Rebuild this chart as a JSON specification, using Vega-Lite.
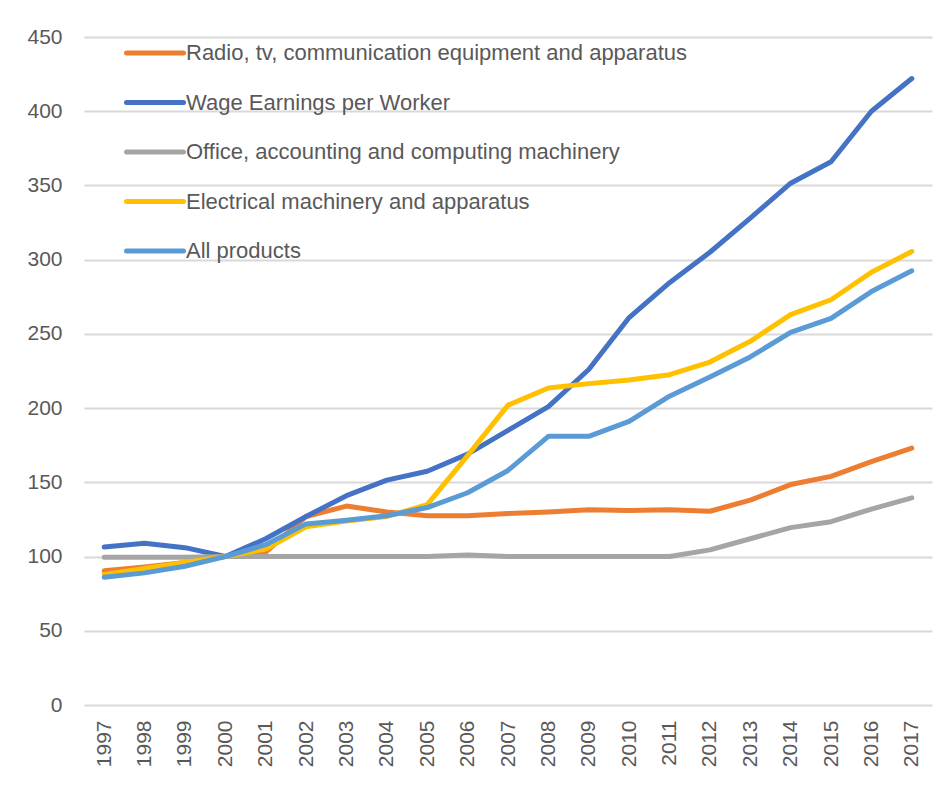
{
  "$schema": "https://vega.github.io/schema/vega-lite/v6.json",
  "width": 848,
  "height": 668,
  "autosize": {"type": "none"},
  "padding": {"left": 84, "top": 37, "right": 19, "bottom": 80},
  "background": "white",
  "config": {"view": {"stroke": null}, "font": "Liberation Sans"},
  "data": {
    "values": [
      {"series": "Radio, tv, communication equipment and apparatus", "year": "1997", "value": 90.5},
      {"series": "Radio, tv, communication equipment and apparatus", "year": "1998", "value": 93},
      {"series": "Radio, tv, communication equipment and apparatus", "year": "1999", "value": 96},
      {"series": "Radio, tv, communication equipment and apparatus", "year": "2000", "value": 100},
      {"series": "Radio, tv, communication equipment and apparatus", "year": "2001", "value": 103},
      {"series": "Radio, tv, communication equipment and apparatus", "year": "2002", "value": 127},
      {"series": "Radio, tv, communication equipment and apparatus", "year": "2003", "value": 134},
      {"series": "Radio, tv, communication equipment and apparatus", "year": "2004", "value": 130},
      {"series": "Radio, tv, communication equipment and apparatus", "year": "2005", "value": 127.5},
      {"series": "Radio, tv, communication equipment and apparatus", "year": "2006", "value": 127.5},
      {"series": "Radio, tv, communication equipment and apparatus", "year": "2007", "value": 129},
      {"series": "Radio, tv, communication equipment and apparatus", "year": "2008", "value": 130},
      {"series": "Radio, tv, communication equipment and apparatus", "year": "2009", "value": 131.5},
      {"series": "Radio, tv, communication equipment and apparatus", "year": "2010", "value": 131},
      {"series": "Radio, tv, communication equipment and apparatus", "year": "2011", "value": 131.5},
      {"series": "Radio, tv, communication equipment and apparatus", "year": "2012", "value": 130.5},
      {"series": "Radio, tv, communication equipment and apparatus", "year": "2013", "value": 138},
      {"series": "Radio, tv, communication equipment and apparatus", "year": "2014", "value": 148.5},
      {"series": "Radio, tv, communication equipment and apparatus", "year": "2015", "value": 154},
      {"series": "Radio, tv, communication equipment and apparatus", "year": "2016", "value": 164},
      {"series": "Radio, tv, communication equipment and apparatus", "year": "2017", "value": 173},
      {"series": "Wage Earnings per Worker", "year": "1997", "value": 106.5},
      {"series": "Wage Earnings per Worker", "year": "1998", "value": 109},
      {"series": "Wage Earnings per Worker", "year": "1999", "value": 106},
      {"series": "Wage Earnings per Worker", "year": "2000", "value": 100},
      {"series": "Wage Earnings per Worker", "year": "2001", "value": 112},
      {"series": "Wage Earnings per Worker", "year": "2002", "value": 127},
      {"series": "Wage Earnings per Worker", "year": "2003", "value": 141},
      {"series": "Wage Earnings per Worker", "year": "2004", "value": 151.5},
      {"series": "Wage Earnings per Worker", "year": "2005", "value": 157.5},
      {"series": "Wage Earnings per Worker", "year": "2006", "value": 169},
      {"series": "Wage Earnings per Worker", "year": "2007", "value": 185},
      {"series": "Wage Earnings per Worker", "year": "2008", "value": 201},
      {"series": "Wage Earnings per Worker", "year": "2009", "value": 226},
      {"series": "Wage Earnings per Worker", "year": "2010", "value": 261},
      {"series": "Wage Earnings per Worker", "year": "2011", "value": 284.5},
      {"series": "Wage Earnings per Worker", "year": "2012", "value": 305},
      {"series": "Wage Earnings per Worker", "year": "2013", "value": 328},
      {"series": "Wage Earnings per Worker", "year": "2014", "value": 351.5},
      {"series": "Wage Earnings per Worker", "year": "2015", "value": 366},
      {"series": "Wage Earnings per Worker", "year": "2016", "value": 400},
      {"series": "Wage Earnings per Worker", "year": "2017", "value": 422},
      {"series": "Office, accounting and computing machinery", "year": "1997", "value": 99.5},
      {"series": "Office, accounting and computing machinery", "year": "1998", "value": 99.5},
      {"series": "Office, accounting and computing machinery", "year": "1999", "value": 99.5},
      {"series": "Office, accounting and computing machinery", "year": "2000", "value": 100},
      {"series": "Office, accounting and computing machinery", "year": "2001", "value": 100},
      {"series": "Office, accounting and computing machinery", "year": "2002", "value": 100},
      {"series": "Office, accounting and computing machinery", "year": "2003", "value": 100},
      {"series": "Office, accounting and computing machinery", "year": "2004", "value": 100},
      {"series": "Office, accounting and computing machinery", "year": "2005", "value": 100},
      {"series": "Office, accounting and computing machinery", "year": "2006", "value": 101},
      {"series": "Office, accounting and computing machinery", "year": "2007", "value": 100},
      {"series": "Office, accounting and computing machinery", "year": "2008", "value": 100},
      {"series": "Office, accounting and computing machinery", "year": "2009", "value": 100},
      {"series": "Office, accounting and computing machinery", "year": "2010", "value": 100},
      {"series": "Office, accounting and computing machinery", "year": "2011", "value": 100},
      {"series": "Office, accounting and computing machinery", "year": "2012", "value": 104.5},
      {"series": "Office, accounting and computing machinery", "year": "2013", "value": 112},
      {"series": "Office, accounting and computing machinery", "year": "2014", "value": 119.5},
      {"series": "Office, accounting and computing machinery", "year": "2015", "value": 123.5},
      {"series": "Office, accounting and computing machinery", "year": "2016", "value": 132},
      {"series": "Office, accounting and computing machinery", "year": "2017", "value": 139.5},
      {"series": "Electrical machinery and apparatus", "year": "1997", "value": 88},
      {"series": "Electrical machinery and apparatus", "year": "1998", "value": 92},
      {"series": "Electrical machinery and apparatus", "year": "1999", "value": 96},
      {"series": "Electrical machinery and apparatus", "year": "2000", "value": 100},
      {"series": "Electrical machinery and apparatus", "year": "2001", "value": 105},
      {"series": "Electrical machinery and apparatus", "year": "2002", "value": 120},
      {"series": "Electrical machinery and apparatus", "year": "2003", "value": 124},
      {"series": "Electrical machinery and apparatus", "year": "2004", "value": 127},
      {"series": "Electrical machinery and apparatus", "year": "2005", "value": 135},
      {"series": "Electrical machinery and apparatus", "year": "2006", "value": 168},
      {"series": "Electrical machinery and apparatus", "year": "2007", "value": 202},
      {"series": "Electrical machinery and apparatus", "year": "2008", "value": 213.5},
      {"series": "Electrical machinery and apparatus", "year": "2009", "value": 216.5},
      {"series": "Electrical machinery and apparatus", "year": "2010", "value": 219},
      {"series": "Electrical machinery and apparatus", "year": "2011", "value": 222.5},
      {"series": "Electrical machinery and apparatus", "year": "2012", "value": 231},
      {"series": "Electrical machinery and apparatus", "year": "2013", "value": 245},
      {"series": "Electrical machinery and apparatus", "year": "2014", "value": 263},
      {"series": "Electrical machinery and apparatus", "year": "2015", "value": 273},
      {"series": "Electrical machinery and apparatus", "year": "2016", "value": 291.5},
      {"series": "Electrical machinery and apparatus", "year": "2017", "value": 305.5},
      {"series": "All products", "year": "1997", "value": 86},
      {"series": "All products", "year": "1998", "value": 89},
      {"series": "All products", "year": "1999", "value": 93.5},
      {"series": "All products", "year": "2000", "value": 100},
      {"series": "All products", "year": "2001", "value": 108},
      {"series": "All products", "year": "2002", "value": 122},
      {"series": "All products", "year": "2003", "value": 124.5},
      {"series": "All products", "year": "2004", "value": 127.5},
      {"series": "All products", "year": "2005", "value": 133},
      {"series": "All products", "year": "2006", "value": 143},
      {"series": "All products", "year": "2007", "value": 158},
      {"series": "All products", "year": "2008", "value": 181},
      {"series": "All products", "year": "2009", "value": 181},
      {"series": "All products", "year": "2010", "value": 191},
      {"series": "All products", "year": "2011", "value": 208},
      {"series": "All products", "year": "2012", "value": 221},
      {"series": "All products", "year": "2013", "value": 234.5},
      {"series": "All products", "year": "2014", "value": 251},
      {"series": "All products", "year": "2015", "value": 260.5},
      {"series": "All products", "year": "2016", "value": 278.5},
      {"series": "All products", "year": "2017", "value": 292.5}
    ]
  },
  "mark": {"type": "line", "strokeWidth": 5, "strokeCap": "round", "strokeJoin": "round"},
  "encoding": {
    "x": {
      "field": "year",
      "type": "ordinal",
      "scale": {"padding": 0.5},
      "axis": {
        "title": null,
        "labelAngle": -90,
        "labelAlign": "right",
        "labelBaseline": "middle",
        "labelFontSize": 21,
        "labelColor": "#595959",
        "labelPadding": 15,
        "ticks": false,
        "domain": false,
        "grid": false
      }
    },
    "y": {
      "field": "value",
      "type": "quantitative",
      "scale": {"domain": [0, 450], "nice": false},
      "axis": {
        "title": null,
        "values": [0, 50, 100, 150, 200, 250, 300, 350, 400, 450],
        "grid": true,
        "gridColor": "#d9d9d9",
        "gridWidth": 2,
        "domain": false,
        "ticks": false,
        "labelPadding": 22,
        "labelFontSize": 21,
        "labelColor": "#595959"
      }
    },
    "color": {
      "field": "series",
      "type": "nominal",
      "sort": null,
      "scale": {
        "domain": [
          "Radio, tv, communication equipment and apparatus",
          "Wage Earnings per Worker",
          "Office, accounting and computing machinery",
          "Electrical machinery and apparatus",
          "All products"
        ],
        "range": ["#ED7D31", "#4472C4", "#A5A5A5", "#FFC000", "#5B9BD5"]
      },
      "legend": {
        "title": null,
        "orient": "none",
        "legendX": 40,
        "legendY": -15,
        "padding": 0,
        "symbolType": "stroke",
        "symbolSize": 3249,
        "symbolStrokeWidth": 5,
        "labelFontSize": 22,
        "labelColor": "#595959",
        "labelOffset": 0,
        "labelLimit": 1000,
        "rowPadding": 7.5,
        "encode": {"symbols": {"update": {"strokeCap": {"value": "round"}}}}
      }
    }
  }
}
